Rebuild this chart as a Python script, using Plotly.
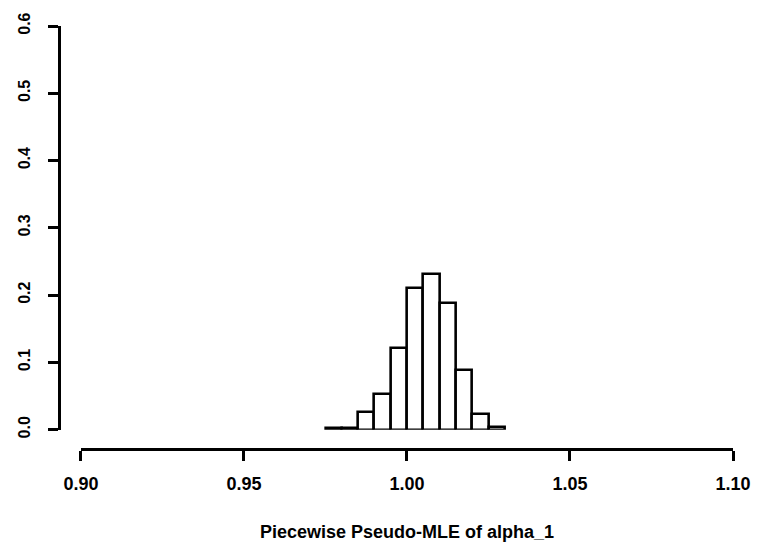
import plotly.graph_objects as go

# Histogram of the piecewise pseudo-MLE estimates of alpha_1
bin_left = [0.975, 0.980, 0.985, 0.990, 0.995, 1.000, 1.005, 1.010, 1.015, 1.020, 1.025]
bin_width = 0.005
rel_freq = [0.002, 0.003, 0.026, 0.053, 0.121, 0.210, 0.231, 0.189, 0.089, 0.024, 0.004]

x_ticks = [0.90, 0.95, 1.00, 1.05, 1.10]
x_ticklabels = ["0.90", "0.95", "1.00", "1.05", "1.10"]
y_ticks = [0.0, 0.1, 0.2, 0.3, 0.4, 0.5, 0.6]
y_ticklabels = ["0.0", "0.1", "0.2", "0.3", "0.4", "0.5", "0.6"]

W, H = 763, 553
# pixel frame of the R-style detached axes
y_axis_x = 58.5      # vertical axis line
x_start, x_end = 80.5, 734.0
x_axis_y = 449.0     # horizontal axis line
y_zero, y_top = 429.5, 22.0

left, right = y_axis_x, W - x_end
top, bottom = y_top, H - x_axis_y
plot_w = W - left - right
plot_h = H - top - bottom

centers = [b + bin_width / 2 for b in bin_left]

fig = go.Figure(
    go.Bar(
        x=centers,
        y=rel_freq,
        width=bin_width,
        marker=dict(color="white", line=dict(color="black", width=2.6)),
    )
)

font = dict(family="Liberation Sans, Arial, sans-serif", color="black", weight="bold")

fig.update_layout(
    width=W,
    height=H,
    margin=dict(l=left, r=right, t=top, b=bottom, pad=0),
    paper_bgcolor="white",
    plot_bgcolor="white",
    showlegend=False,
    bargap=0,
    xaxis=dict(
        range=[0.90, 1.10],
        domain=[(x_start - left) / plot_w, 1],
        anchor="free",
        position=0,
        tickvals=x_ticks,
        ticktext=x_ticklabels,
        ticks="outside",
        ticklen=10,
        tickwidth=2.6,
        tickcolor="black",
        showline=True,
        linewidth=2.6,
        linecolor="black",
        showgrid=False,
        zeroline=False,
        tickfont=dict(size=18, **font),
        ticklabelstandoff=8,
        title=dict(text="Piecewise Pseudo-MLE of alpha_1", font=dict(size=18, **font), standoff=31),
    ),
    yaxis=dict(
        range=[0, 0.6],
        domain=[(x_axis_y - y_zero) / plot_h, 1],
        anchor="free",
        position=0,
        tickvals=y_ticks,
        ticktext=y_ticklabels,
        tickangle=-90,
        ticks="outside",
        ticklen=10,
        tickwidth=2.6,
        tickcolor="black",
        showline=True,
        linewidth=2.6,
        linecolor="black",
        showgrid=False,
        zeroline=False,
        tickfont=dict(size=16, **font),
        ticklabelstandoff=12,
    ),
)

fig.write_html("out.html")
